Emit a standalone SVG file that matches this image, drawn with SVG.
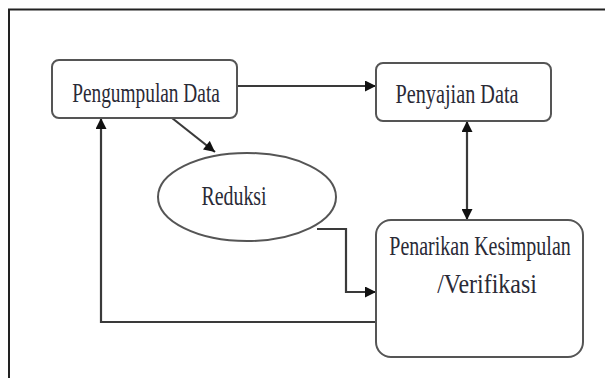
<svg xmlns="http://www.w3.org/2000/svg" width="605" height="378" viewBox="0 0 605 378">
<style>
.box{fill:#fff;stroke:#555;stroke-width:2}
.ln{fill:none;stroke:#3a3a3a;stroke-width:2.2}
.t{font-family:"Liberation Serif","Times New Roman",serif;font-size:28px;fill:#2a2a36;text-anchor:middle}
</style>
<defs>
<marker id="ah" viewBox="0 0 10 10" refX="10" refY="5" markerWidth="5.5" markerHeight="5" orient="auto-start-reverse" markerUnits="strokeWidth">
<path d="M0,0 L10,5 L0,10 z" fill="#111"/>
</marker>
</defs>
<rect x="0" y="0" width="605" height="378" fill="#fff"/>
<path d="M9,378 V9.5 H605" fill="none" stroke="#222" stroke-width="2"/>
<g id="connectors">
<path class="ln" d="M237,86 H376" marker-end="url(#ah)"/>
<path class="ln" d="M172,118 L215,152" marker-end="url(#ah)"/>
<path class="ln" d="M467,121 V220" marker-start="url(#ah)" marker-end="url(#ah)"/>
<path class="ln" d="M317,229 H346 V292 H376" marker-end="url(#ah)"/>
<path class="ln" d="M376,322 H101 V118" marker-end="url(#ah)"/>
</g>
<g id="pengumpulan">
<rect class="box" x="52" y="60" width="185" height="58" rx="7"/>
<text class="t" transform="translate(146,102) scale(0.75,1)" textLength="197" lengthAdjust="spacingAndGlyphs">Pengumpulan Data</text>
</g>
<g id="penyajian">
<rect class="box" x="376" y="63" width="175" height="58" rx="7"/>
<text class="t" transform="translate(457,103) scale(0.75,1)" textLength="164" lengthAdjust="spacingAndGlyphs">Penyajian Data</text>
</g>
<g id="reduksi">
<ellipse class="box" cx="247" cy="197" rx="89" ry="44"/>
<text class="t" transform="translate(234,205) scale(0.75,1)" textLength="87" lengthAdjust="spacingAndGlyphs">Reduksi</text>
</g>
<g id="penarikan">
<rect class="box" x="376" y="220" width="207" height="137" rx="15"/>
<text class="t" transform="translate(480,255) scale(0.75,1)" textLength="242" lengthAdjust="spacingAndGlyphs">Penarikan Kesimpulan</text>
<text class="t" transform="translate(487,293) scale(0.75,1)" textLength="133" lengthAdjust="spacingAndGlyphs">/Verifikasi</text>
</g>
</svg>
